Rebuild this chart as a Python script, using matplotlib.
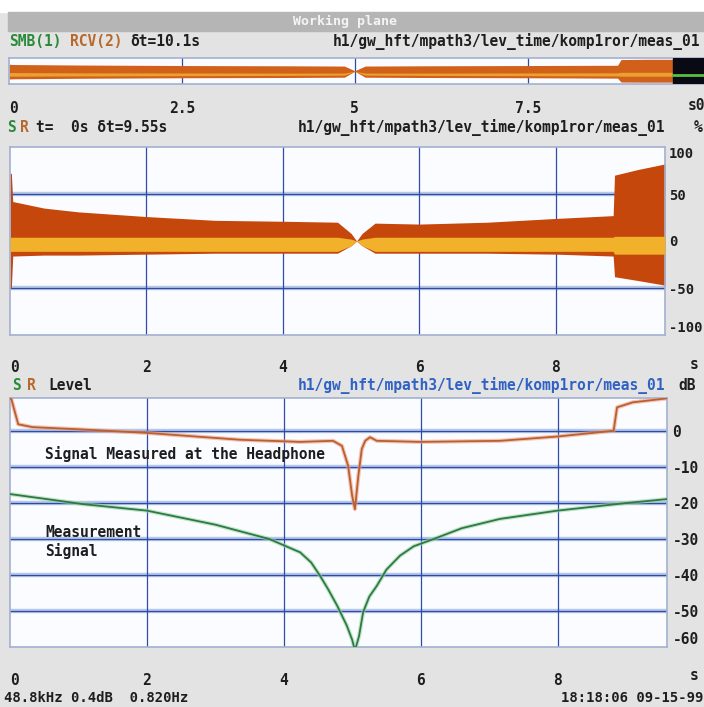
import matplotlib
matplotlib.use("Agg")
import matplotlib.pyplot as plt
from matplotlib.patches import Rectangle

plt.rcParams['font.family'] = ['DejaVu Sans Mono', 'DejaVu Sans']
plt.rcParams['font.weight'] = 'bold'
plt.rcParams['font.size'] = 10

W, H = 704, 707

# ---- values ----
# overview strip (whole recording), %
ov_t = [0, 0.05, 1.0, 2.5, 4.0, 4.85, 5.0, 5.15, 6.0, 7.5, 8.8, 8.85, 9.2, 9.6]
ov_up = [52, 50, 46, 42, 40, 38, 2, 38, 40, 42, 44, 88, 90, 90]
ov_lo = [-62, -60, -56, -52, -50, -48, -2, -48, -50, -52, -55, -85, -86, -86]
ov_rcv_up = [-12, -12, -14, -15, -16, -16, -2, -16, -16, -15, -14, -10, -10, -10]
ov_rcv_lo = [-40, -40, -38, -36, -34, -32, -4, -32, -34, -36, -38, -40, -40, -40]
ov_green_t = [9.6, 10.05]
ov_green = [-30, -30]

# time signal envelopes, %
wave_t = [0, 0.02, 0.04, 0.5, 1.0, 2.0, 3.0, 4.0, 4.8, 5.0, 5.08, 5.16, 5.35,
          6.0, 7.0, 8.0, 8.84, 8.86, 9.2, 9.6]
wave_up = [72, 72, 42, 35, 31, 26, 22, 21, 20, 8, 0, 8, 19, 18, 20, 24, 27, 70, 76, 82]
wave_lo = [-50, -50, -16, -15, -15, -14, -13, -13, -13, -5, 0, -5, -13, -13, -13,
           -14, -16, -38, -42, -47]
rcv_up = [4, 4, 4, 4, 4, 4, 4, 4, 4, 2, 0, 2, 4, 4, 4, 4, 4, 5, 5, 5]
rcv_lo = [-11, -11, -11, -11, -11, -11, -11, -11, -11, -5, 0, -5, -11, -11, -11,
          -11, -11, -14, -14, -14]

# level, dB
hp_t = [0, 0.02, 0.12, 0.33, 1.0, 2.0, 3.36, 4.24, 4.72, 4.85, 4.94, 5.0, 5.04,
        5.09, 5.14, 5.19, 5.26, 5.36, 6.0, 7.16, 8.0, 8.82, 8.87, 9.1, 9.6]
hp_db = [9, 8.9, 1.9, 1.1, 0.5, -0.5, -2.4, -3.0, -2.7, -4.1, -9.6, -18, -21.7,
         -12.4, -5, -2.7, -1.7, -2.7, -3.0, -2.7, -1.5, 0.1, 6.6, 8.0, 9.1]
ms_t = [0, 0.5, 1.07, 2.0, 3.0, 3.79, 4.24, 4.4, 4.53, 4.65, 4.78, 4.92, 5.0, 5.04,
        5.1, 5.16, 5.25, 5.36, 5.5, 5.7, 5.9, 6.19, 6.6, 7.16, 8.0, 9.0, 9.6]
ms_db = [-17.5, -18.8, -20.3, -22.1, -26, -30, -33.7, -36.5, -40.2, -44, -48.5, -54,
         -58, -61, -57, -50.3, -46, -43, -38.5, -34.6, -32, -30, -27, -24.4, -22.1,
         -20, -18.9]

path = "h1/gw_hft/mpath3/lev_time/komp1ror/meas_01"

ORANGE = '#c5470c'
YELLOW = '#f1b12a'
GREEN = '#2a8a3a'
BROWN = '#b8682a'
DARK = '#1e1e1e'
BG = '#e3e3e3'


def fx(x):
    return x / W


def fy(y):
    return 1 - y / H


def panel(l, t, r, b):
    ax = fig.add_axes([fx(l), fy(b), (r - l) / W, (b - t) / H])
    ax.set_facecolor('#fbfcff')
    for s in ax.spines.values():
        s.set_color('#a3b0d2')
        s.set_linewidth(1.2)
    ax.tick_params(length=0, colors=DARK, labelsize=10.5)
    return ax


def grid(ax, ys, xs):
    for y in ys:
        ax.axhline(y, color='#b7c7e6', lw=3.2, zorder=1)
        ax.axhline(y, color='#2f4ba8', lw=0.9, zorder=1.1)
    for x in xs:
        ax.axvline(x, color='#2f4ba8', lw=0.9, zorder=1.1)


fig = plt.figure(figsize=(W / 100, H / 100), dpi=100, facecolor=BG)

# top strip and title bar
fig.patches.append(Rectangle((0, fy(12)), 1, 12 / H, transform=fig.transFigure,
                             color='white', zorder=0))
fig.patches.append(Rectangle((fx(8), fy(31)), 1, 19 / H, transform=fig.transFigure,
                             color='#b5b5b5', zorder=0))
fig.text(fx(345), fy(21), "Working plane", color='#f4f4f4', ha='center', va='center',
         fontsize=9.5)

# ---- overview ----
ax1 = panel(9, 58, 704, 84)
ax1.set_xlim(0, 10.05)
ax1.set_ylim(-100, 100)
grid(ax1, [], [2.5, 5, 7.5])
ax1.fill_between(ov_t, ov_lo, ov_up, color='#d0601a', lw=0, zorder=2)
ax1.fill_between(ov_t, ov_rcv_lo, ov_rcv_up, color='#eaa12e', lw=0, zorder=2)
ax1.axvspan(9.6, 10.05, color='#0a0a14', zorder=3)
ax1.plot(ov_green_t, ov_green, color='#58c040', lw=2, zorder=4)
ax1.set_yticks([])
ax1.set_xticks([0, 2.5, 5, 7.5], ["0", "2.5", "5", "7.5"])
ax1.tick_params(axis='x', pad=12)
ax1.get_xticklabels()[0].set_ha('left')

fig.text(fx(9), fy(42), "SMB(1)", color=GREEN, va='center', fontsize=10.5)
fig.text(fx(70), fy(42), "RCV(2)", color=BROWN, va='center', fontsize=10.5)
fig.text(fx(130), fy(42), "δt=10.1s", color=DARK, va='center', fontsize=10.5)
fig.text(fx(700), fy(42), path, color=DARK, ha='right', va='center', fontsize=10.5)
fig.text(fx(688), fy(105), "s0", color=DARK, va='center', fontsize=10.5)

# ---- time signal ----
ax2 = panel(10, 147, 665, 335)
ax2.set_xlim(0, 9.6)
ax2.set_ylim(-100, 100)
grid(ax2, [50, -50], [2, 4, 6, 8])
ax2.fill_between(wave_t, wave_lo, wave_up, color=ORANGE, lw=0, zorder=2)
ax2.fill_between(wave_t, rcv_lo, rcv_up, color=YELLOW, lw=0, zorder=3)
ax2.yaxis.tick_right()
ax2.set_yticks([100, 50, 0, -50, -100], ["100", "50", "0", "-50", "-100"])
ax2.get_yticklabels()[0].set_va('top')
ax2.get_yticklabels()[-1].set_va('bottom')
ax2.tick_params(axis='y', pad=3, labelsize=10)
ax2.set_xticks([0, 2, 4, 6, 8], ["0", "2", "4", "6", "8"])
ax2.tick_params(axis='x', pad=18)
ax2.get_xticklabels()[0].set_ha('left')

fig.text(fx(7), fy(127), "S", color=GREEN, va='center', fontsize=10.5)
fig.text(fx(20), fy(127), "R", color=BROWN, va='center', fontsize=10.5)
fig.text(fx(36), fy(127), "t=  0s δt=9.55s", color=DARK, va='center', fontsize=10.5)
fig.text(fx(665), fy(127), path, color=DARK, ha='right', va='center', fontsize=10.5)
fig.text(fx(694), fy(127), "%", color=DARK, va='center', fontsize=10.5)
fig.text(fx(690), fy(365), "s", color=DARK, va='center', fontsize=10.5)

# ---- level ----
ax3 = panel(10, 398, 667, 647)
ax3.set_xlim(0, 9.6)
ax3.set_ylim(-60, 9.2)
grid(ax3, [0, -10, -20, -30, -40, -50], [2, 4, 6, 8])
ax3.plot(hp_t, hp_db, color='#f0a08a', lw=3, alpha=0.6, zorder=3)
ax3.plot(hp_t, hp_db, color='#b8602e', lw=1.3, zorder=4)
ax3.plot(ms_t, ms_db, color='#9fd4a8', lw=3, alpha=0.6, zorder=3)
ax3.plot(ms_t, ms_db, color='#2d7a44', lw=1.3, zorder=4)
ax3.text(0.51, -6.4, "Signal Measured at the Headphone", color=DARK, va='center',
         fontsize=10.5, zorder=5)
ax3.text(0.51, -28.1, "Measurement", color=DARK, va='center', fontsize=10.5, zorder=5)
ax3.text(0.51, -33.4, "Signal", color=DARK, va='center', fontsize=10.5, zorder=5)
ax3.yaxis.tick_right()
ax3.set_yticks([0, -10, -20, -30, -40, -50, -60],
               ["0", "-10", "-20", "-30", "-40", "-50", "-60"])
ax3.get_yticklabels()[-1].set_va('bottom')
ax3.tick_params(axis='y', pad=4)
ax3.set_xticks([0, 2, 4, 6, 8], ["0", "2", "4", "6", "8"])
ax3.tick_params(axis='x', pad=19)
ax3.get_xticklabels()[0].set_ha('left')

fig.text(fx(12), fy(386), "S", color=GREEN, va='center', fontsize=10.5)
fig.text(fx(27), fy(386), "R", color=BROWN, va='center', fontsize=10.5)
fig.text(fx(48), fy(386), "Level", color=DARK, va='center', fontsize=10.5)
fig.text(fx(665), fy(386), path, color='#2f62c4', ha='right', va='center', fontsize=10.5)
fig.text(fx(678), fy(386), "dB", color=DARK, va='center', fontsize=10.5)
fig.text(fx(690), fy(675), "s", color=DARK, va='center', fontsize=10.5)

# footer
fig.text(fx(4), fy(698), "48.8kHz 0.4dB  0.820Hz", color=DARK, va='center', fontsize=10)
fig.text(fx(703), fy(698), "18:18:06 09-15-99", color=DARK, ha='right', va='center',
         fontsize=10)

fig.savefig("out.png", dpi=100, facecolor=BG)
